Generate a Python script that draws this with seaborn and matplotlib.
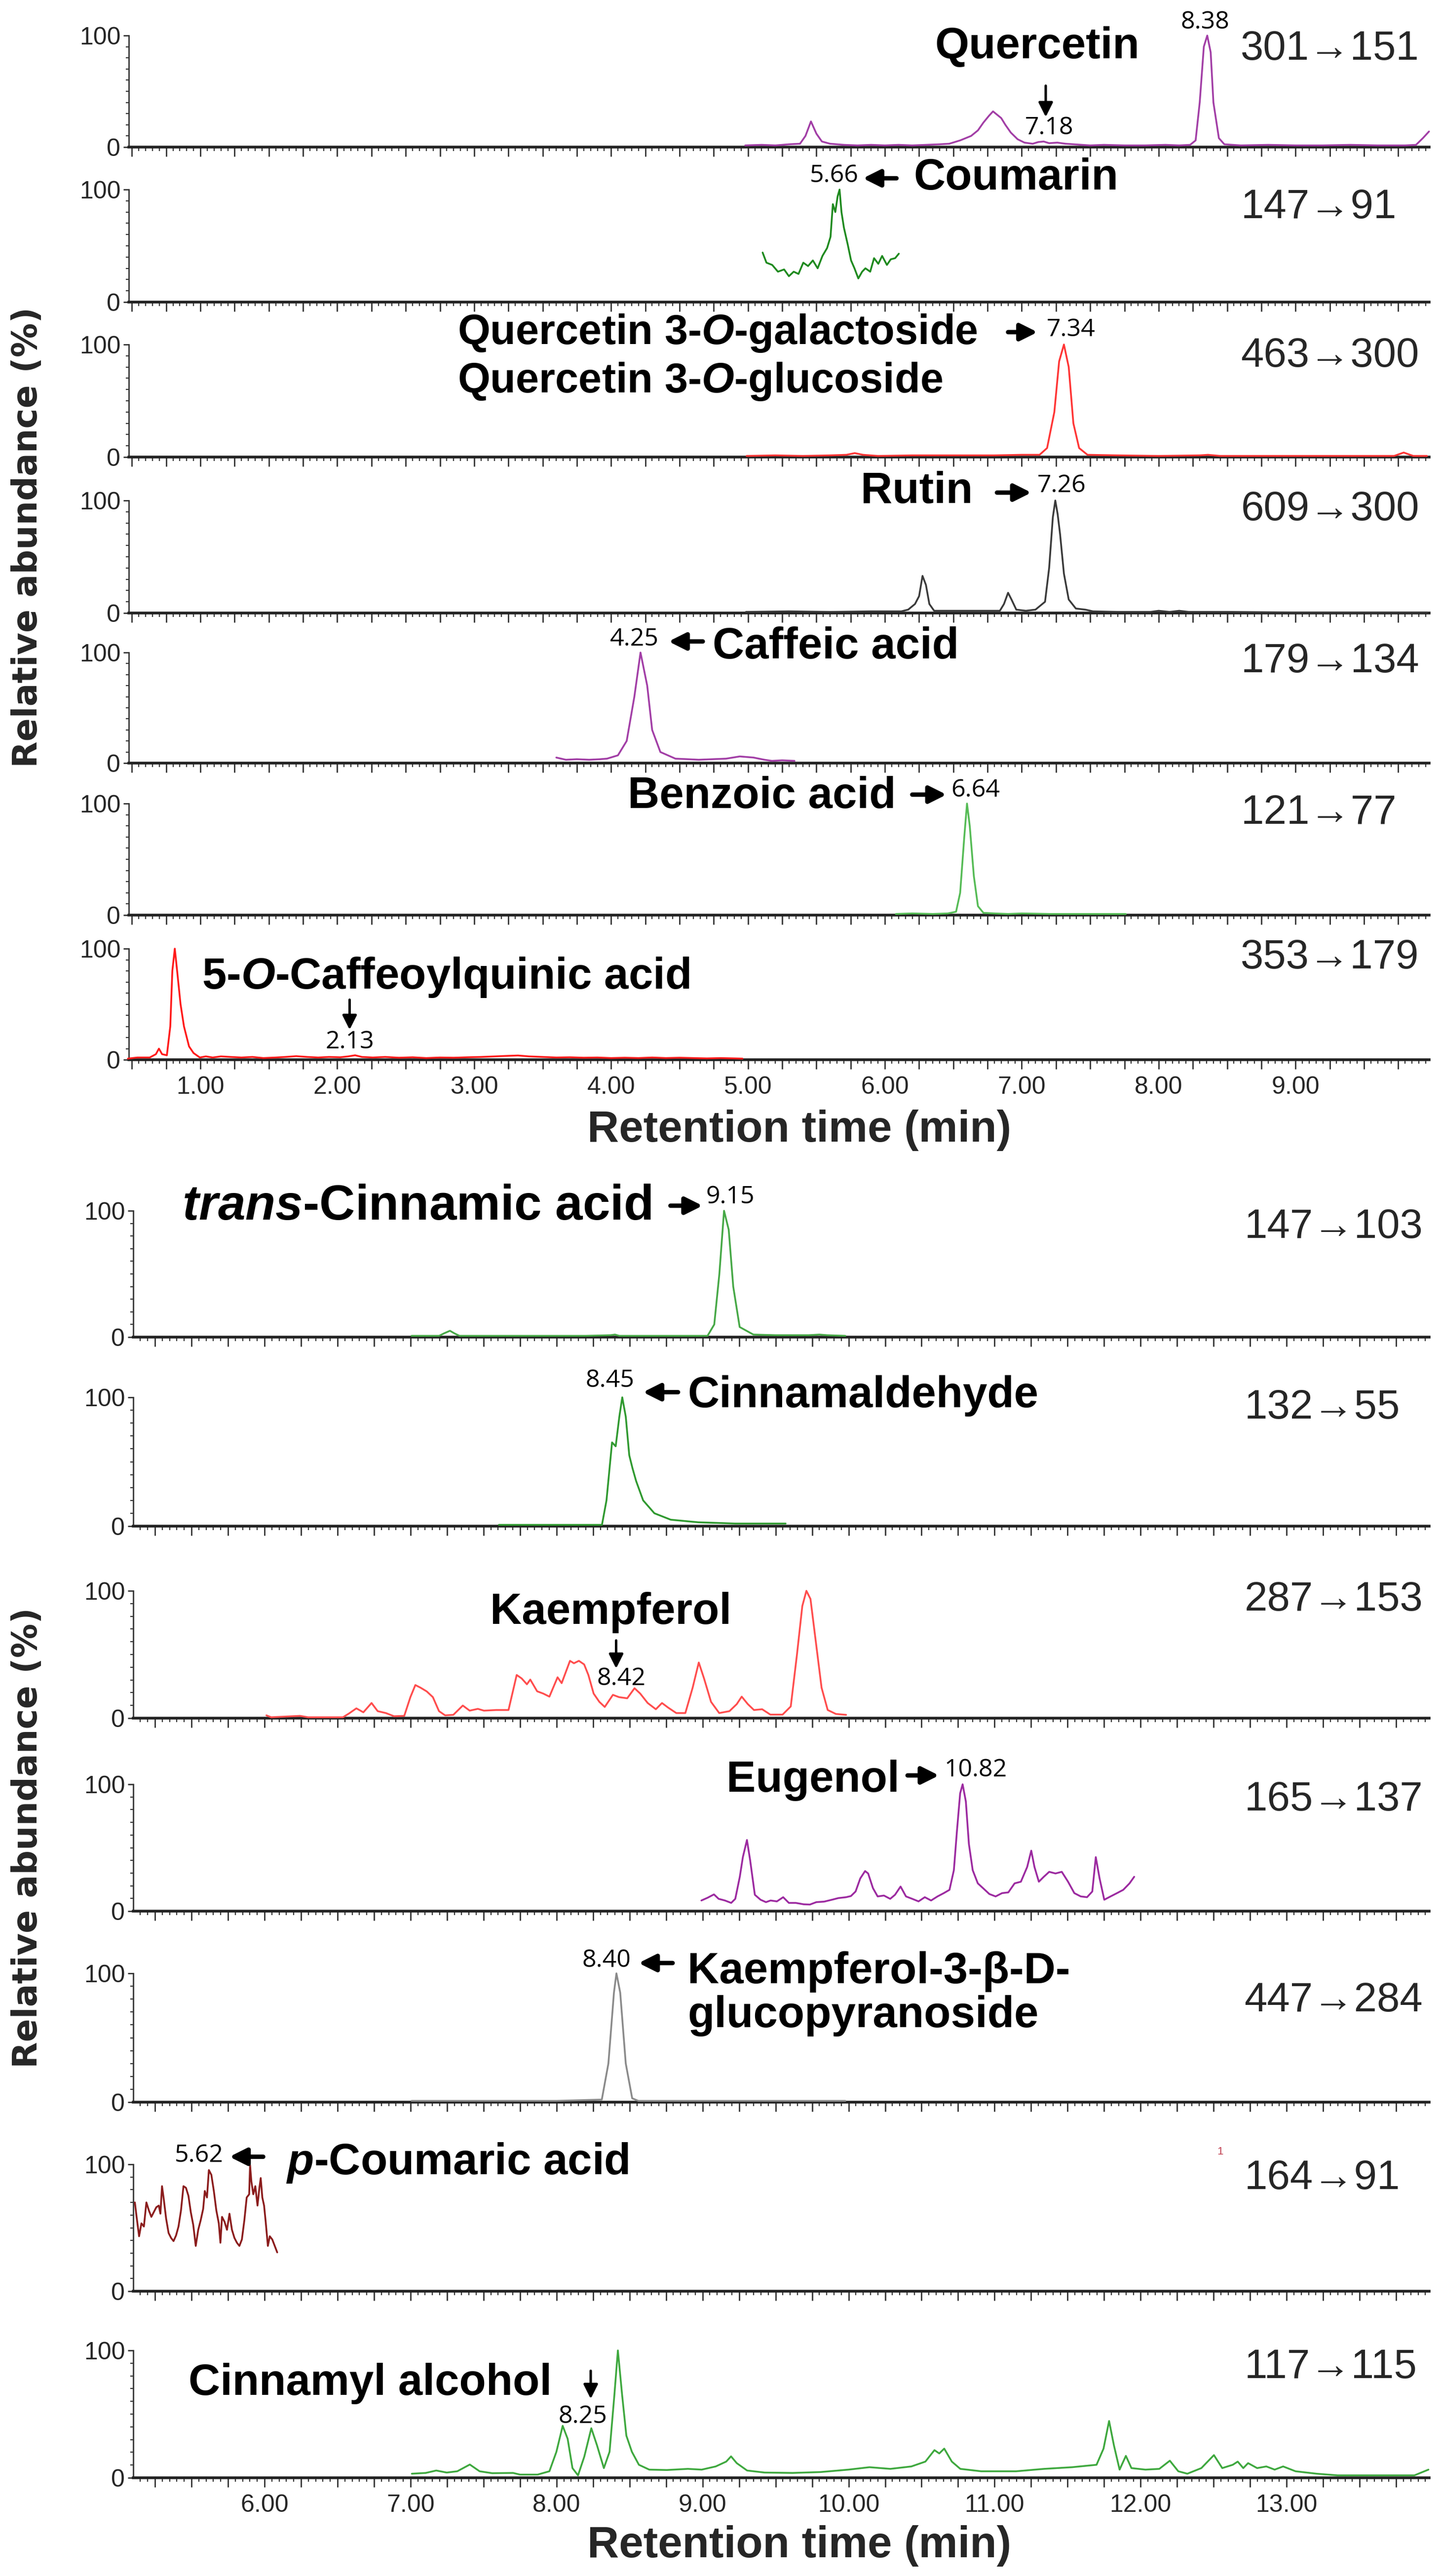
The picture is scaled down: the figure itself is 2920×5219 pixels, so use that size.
import matplotlib
matplotlib.use('Agg')
import matplotlib.pyplot as plt
from matplotlib.ticker import MultipleLocator, FuncFormatter
import seaborn as sns

# ---- chromatogram traces (retention time in min, relative abundance in %) ----
quercetin_t = [4.98, 5.10, 5.20, 5.30, 5.38, 5.42, 5.46, 5.50, 5.54, 5.60, 5.70, 5.80, 5.90, 6.00, 6.10, 6.20,
               6.30, 6.40, 6.47, 6.55, 6.63, 6.68, 6.72, 6.76, 6.79, 6.82, 6.85, 6.88, 6.92, 6.97, 7.02, 7.08,
               7.12, 7.16, 7.20, 7.26, 7.32, 7.38, 7.50, 7.60, 7.75, 7.90, 8.05, 8.15, 8.23, 8.27, 8.30, 8.33,
               8.355, 8.38, 8.40, 8.44, 8.48, 8.60, 8.80, 9.00, 9.20, 9.40, 9.60, 9.80, 9.88, 9.93, 9.975]
quercetin_y = [1.5, 2, 1.5, 2.5, 3, 10, 23, 12, 5, 3, 2, 1.5, 2, 1.5, 2, 1.5,
               2, 2.5, 3, 6, 10, 15, 22, 28, 32, 29, 26, 20, 13, 7, 4, 3,
               4.5, 5, 3.5, 4, 3, 2.5, 1.5, 2, 1.5, 1.5, 2, 1.5, 2, 6, 40, 90,
               100, 85, 40, 8, 2.5, 1.5, 2, 1.5, 1.5, 2, 1.5, 1.5, 2, 8, 14]

coumarin_t = [5.107, 5.135, 5.177, 5.219, 5.264, 5.299, 5.334, 5.369, 5.404, 5.439, 5.474, 5.509, 5.544,
              5.578, 5.603, 5.620, 5.638, 5.655, 5.669, 5.683, 5.701, 5.729, 5.753, 5.778, 5.806, 5.834,
              5.858, 5.893, 5.921, 5.952, 5.980, 6.015, 6.043, 6.075, 6.102]
coumarin_y = [44, 35, 33, 27, 29, 23, 27, 25, 35, 32, 37, 30, 41,
              48, 58, 87, 80, 94, 100, 80, 66, 51, 37, 30, 21, 27,
              30, 27, 39, 34, 41, 33, 38, 39, 43]

q3g_t = [4.99, 5.20, 5.40, 5.60, 5.72, 5.78, 5.84, 5.95, 6.20, 6.50, 6.80, 7.00, 7.13, 7.185, 7.238, 7.273,
         7.308, 7.343, 7.377, 7.419, 7.48, 7.70, 8.00, 8.30, 8.36, 8.45, 8.80, 9.20, 9.60, 9.72, 9.79, 9.86, 9.96]
q3g_y = [1, 1.5, 1, 1.5, 2, 3.5, 2, 1, 1.5, 1.5, 1.5, 2, 2, 8, 40, 85,
         100, 80, 30, 8, 2, 1.5, 1, 1.5, 2, 1, 1, 1, 1, 1, 4, 1, 1]

rutin_t = [4.985, 5.30, 5.60, 5.90, 6.12, 6.17, 6.22, 6.25, 6.275, 6.30, 6.325, 6.36, 6.50, 6.70, 6.84, 6.87,
           6.90, 6.925, 6.96, 7.03, 7.10, 7.17, 7.20, 7.227, 7.245, 7.262, 7.28, 7.308, 7.343, 7.395, 7.465,
           7.52, 7.70, 7.94, 8.00, 8.08, 8.15, 8.22, 8.50, 9.00, 9.50, 9.96]
rutin_y = [1, 1.5, 1, 1.5, 1.5, 3, 8, 15, 33, 25, 8, 2, 2, 2, 2, 8,
           18, 12, 3, 2, 3, 10, 40, 85, 100, 88, 70, 35, 12, 4, 3,
           1.5, 1, 1, 2, 1, 2, 1, 1, 0.5, 0.5, 0.5]

caffeic_t = [3.60, 3.67, 3.75, 3.84, 3.92, 3.97, 4.05, 4.114, 4.17, 4.215, 4.264, 4.30, 4.36, 4.47, 4.56,
             4.64, 4.74, 4.84, 4.94, 5.04, 5.12, 5.175, 5.25, 5.34]
caffeic_y = [5, 3, 3.5, 3, 3.5, 4, 7, 20, 60, 100, 70, 30, 10, 4, 3.5,
             3, 3.5, 4, 6, 5, 3, 2, 2.5, 2]

benzoic_t = [6.08, 6.20, 6.35, 6.46, 6.52, 6.55, 6.58, 6.60, 6.62, 6.65, 6.68, 6.72, 6.80, 6.90, 7.00,
             7.20, 7.40, 7.60, 7.76]
benzoic_y = [1, 1.5, 1, 1.5, 3, 20, 70, 100, 80, 35, 8, 2, 1.5, 1, 1.5, 1, 1, 1, 1]

cqa_t = [0.47, 0.54, 0.63, 0.675, 0.697, 0.72, 0.755, 0.78, 0.795, 0.813, 0.83, 0.855, 0.88, 0.917, 0.95,
         0.996, 1.04, 1.09, 1.15, 1.22, 1.30, 1.38, 1.46, 1.55, 1.62, 1.70, 1.78, 1.86, 1.94, 2.02, 2.08,
         2.13, 2.18, 2.26, 2.35, 2.45, 2.55, 2.65, 2.75, 2.85, 2.95, 3.05, 3.15, 3.25, 3.32, 3.40, 3.50,
         3.60, 3.70, 3.80, 3.90, 4.00, 4.10, 4.20, 4.30, 4.40, 4.50, 4.60, 4.70, 4.80, 4.90, 4.96]
cqa_y = [1, 2, 2, 5, 10, 5, 4, 30, 80, 100, 80, 50, 30, 12, 6,
         2, 3, 2, 3, 2.5, 2, 2.5, 1.5, 2, 2.5, 3.2, 2.5, 2, 2.5, 2.2, 3,
         4, 2.5, 2, 2.5, 1.8, 2.2, 1.5, 2, 1.8, 2.2, 2.5, 3, 3.5, 3.8, 3, 2.5,
         2, 2.2, 1.8, 2, 1.5, 1.8, 1.5, 2, 1.5, 1.8, 1.5, 1.2, 1.5, 1.2, 1]

cinnamic_t = [7.007, 7.10, 7.196, 7.23, 7.27, 7.30, 7.335, 7.60, 7.90, 8.20, 8.37, 8.40, 8.43, 8.70, 9.034,
              9.08, 9.115, 9.147, 9.179, 9.21, 9.254, 9.348, 9.50, 9.727, 9.80, 9.852, 9.978]
cinnamic_y = [1, 1, 1, 3, 5, 3, 1, 1, 1, 1, 1.5, 2, 1, 1, 1,
              10, 50, 100, 85, 40, 8, 2, 1.5, 1.5, 2, 1.5, 1]

cinnamaldehyde_t = [7.605, 7.80, 8.00, 8.20, 8.311, 8.342, 8.38, 8.405, 8.43, 8.45, 8.474, 8.498, 8.52, 8.545,
                    8.593, 8.67, 8.782, 8.97, 9.10, 9.224, 9.40, 9.569]
cinnamaldehyde_y = [1, 1, 1, 1, 1, 20, 65, 62, 85, 100, 85, 55, 45, 35,
                    20, 10, 5, 3, 2.5, 2, 2, 2]

kaempferol_t = [6.013, 6.046, 6.243, 6.298, 6.537, 6.579, 6.629, 6.677, 6.733, 6.775, 6.831, 6.887, 6.957,
                6.999, 7.033, 7.069, 7.111, 7.153, 7.195, 7.237, 7.293, 7.358, 7.405, 7.461, 7.503, 7.587,
                7.671, 7.727, 7.761, 7.797, 7.820, 7.867, 7.909, 7.951, 8.007, 8.035, 8.092, 8.119, 8.153,
                8.189, 8.218, 8.254, 8.293, 8.330, 8.386, 8.428, 8.484, 8.534, 8.573, 8.624, 8.680, 8.722,
                8.764, 8.820, 8.882, 8.932, 8.974, 9.010, 9.058, 9.114, 9.184, 9.234, 9.268, 9.310, 9.352,
                9.408, 9.464, 9.548, 9.604, 9.646, 9.683, 9.711, 9.739, 9.773, 9.815, 9.857, 9.913, 9.983]
kaempferol_y = [2.2, 0.7, 1.8, 0.7, 0.7, 3.7, 7.7, 4.6, 11.9, 5.5, 4.0, 1.5, 1.8,
                16.5, 26, 23.9, 21, 16.5, 5.5, 2.2, 2.6, 9.9, 5.9, 7.3, 5.9, 6.4,
                6.4, 33.9, 31.2, 26.6, 30.3, 21.1, 19.3, 16.9, 32.1, 27.5, 45, 43.1, 45,
                42.2, 33.9, 19.3, 12.8, 8.8, 18.3, 16.5, 15.6, 23.5, 19.3, 11.9, 7.0, 11.9,
                8.3, 4.0, 4.0, 23.9, 43.7, 31.2, 12.8, 4.0, 5.5, 11.0, 16.9, 11.0, 6.4,
                7.0, 2.8, 2.8, 9.2, 49.5, 88, 100, 93.6, 62.4, 23.9, 6.4, 3.3, 2.6]

eugenol_t = [8.992, 9.035, 9.078, 9.110, 9.153, 9.196, 9.224, 9.255, 9.276, 9.304, 9.326, 9.358, 9.397,
             9.434, 9.466, 9.509, 9.552, 9.591, 9.638, 9.692, 9.735, 9.779, 9.832, 9.886, 9.930, 9.983,
             10.016, 10.048, 10.080, 10.113, 10.134, 10.167, 10.199, 10.242, 10.285, 10.318, 10.356,
             10.393, 10.436, 10.479, 10.522, 10.565, 10.609, 10.652, 10.691, 10.721, 10.742, 10.764,
             10.781, 10.803, 10.824, 10.850, 10.885, 10.921, 10.964, 11.007, 11.051, 11.094, 11.137,
             11.180, 11.223, 11.251, 11.273, 11.303, 11.337, 11.374, 11.417, 11.460, 11.503, 11.546,
             11.590, 11.633, 11.669, 11.693, 11.719, 11.751, 11.794, 11.838, 11.881, 11.924, 11.956]
eugenol_y = [8.4, 10.6, 13.2, 9.7, 8.4, 6.5, 9.7, 27.1, 42.6, 56.1, 40, 12.9, 9.0,
             7.1, 8.4, 7.7, 11.0, 6.5, 6.5, 5.4, 5.2, 7.1, 7.5, 9.0, 10.3, 11.0,
             11.9, 15.5, 25.8, 31.6, 29.7, 18.1, 11.6, 12.3, 9.7, 12.9, 19.4,
             11.6, 9.7, 7.7, 11.0, 8.4, 11.6, 14.2, 16.8, 32.3, 63.2, 92.9,
             100, 86.5, 52.9, 32.3, 21.9, 18.1, 13.5, 11.6, 14.2, 14.8, 21.9,
             23.2, 34.8, 47.7, 34.8, 23.2, 27.1, 31.0, 29.7, 31.0, 23.2, 14.2,
             11.6, 11.0, 15.5, 42.6, 25.8, 9.0, 11.6, 14.2, 16.8, 21.9, 27.1]

k3g_t = [7.007, 7.50, 8.00, 8.31, 8.355, 8.393, 8.41, 8.436, 8.474, 8.518, 8.56, 9.00, 9.50, 9.978]
k3g_y = [1, 1, 1, 2, 30, 85, 100, 85, 30, 3, 1, 1, 1, 1]

pcoumaric_t = [5.112, 5.124, 5.141, 5.157, 5.174, 5.191, 5.208, 5.225, 5.242, 5.259, 5.276, 5.287, 5.298,
               5.310, 5.326, 5.343, 5.360, 5.377, 5.394, 5.411, 5.428, 5.445, 5.462, 5.479, 5.495, 5.512,
               5.529, 5.546, 5.563, 5.580, 5.591, 5.606, 5.619, 5.636, 5.653, 5.670, 5.687, 5.698, 5.709,
               5.726, 5.743, 5.760, 5.777, 5.794, 5.811, 5.828, 5.845, 5.862, 5.878, 5.895, 5.901, 5.910,
               5.923, 5.937, 5.952, 5.965, 5.974, 5.985, 5.997, 6.008, 6.023, 6.036, 6.053, 6.070, 6.087]
pcoumaric_y = [70, 58.6, 43.3, 53.5, 51, 70, 63.7, 58.6, 62.4, 66.2, 67.5, 61.1, 82.8,
               72.6, 57.3, 45.9, 42, 39.5, 43.9, 51, 63.7, 82.8, 81.5, 75.2, 62.4, 52.2,
               35.7, 48.4, 56, 65, 79, 73.9, 95.5, 91.7, 79, 63.7, 53.5, 38.2, 58.6,
               54.8, 48.4, 61.1, 48.4, 42, 38.2, 35.7, 40.8, 56, 73.9, 76.4, 99.4, 86.6,
               76.4, 82.8, 67.5, 81.5, 89.2, 73.9, 67.5, 54.8, 35.7, 43.3, 40.8, 35.7, 30.6]

cinnamyl_t = [7.009, 7.104, 7.176, 7.248, 7.320, 7.406, 7.473, 7.559, 7.702, 7.750, 7.870, 7.951, 7.999,
              8.042, 8.076, 8.109, 8.147, 8.190, 8.238, 8.277, 8.324, 8.363, 8.396, 8.420, 8.449, 8.478,
              8.516, 8.564, 8.635, 8.755, 8.899, 8.994, 9.090, 9.162, 9.195, 9.234, 9.305, 9.425, 9.616,
              9.808, 9.999, 10.143, 10.286, 10.430, 10.526, 10.588, 10.621, 10.655, 10.707, 10.765, 10.908,
              11.147, 11.339, 11.530, 11.698, 11.746, 11.784, 11.817, 11.856, 11.899, 11.937, 12.033,
              12.128, 12.200, 12.258, 12.320, 12.416, 12.502, 12.559, 12.631, 12.665, 12.703, 12.736,
              12.798, 12.861, 12.918, 12.976, 13.061, 13.205, 13.349, 13.636, 13.875, 13.971]
cinnamyl_y = [3.2, 3.8, 5.7, 4.1, 5.1, 10.4, 5.1, 3.6, 3.8, 2.5, 2.5, 5.1, 20.4,
              40.8, 30.6, 7.6, 1.9, 16.6, 38.9, 25.5, 7.6, 20.4, 65, 100, 65, 33.1,
              20.4, 10.2, 6.4, 6.1, 7.0, 6.4, 8.9, 12.7, 16.8, 11.5, 5.7, 4.1, 3.8,
              4.5, 6.4, 8.3, 7.0, 8.9, 12.7, 21.7, 19.1, 22.9, 12.7, 7.0, 5.1,
              5.1, 7.0, 8.3, 10.2, 22.9, 44.6, 25.5, 6.4, 17.2, 7.6, 6.4,
              7.0, 13.4, 5.1, 3.2, 7.6, 17.8, 7.6, 10.2, 12.7, 7.6, 11.5,
              7.6, 8.9, 6.4, 8.9, 5.1, 3.2, 1.9, 1.9, 1.9, 6.4]

transitions = ['301→151', '147→91', '463→300', '609→300', '179→134', '121→77', '353→179',
               '147→103', '132→55', '287→153', '165→137', '447→284', '164→91', '117→115']
transition_y = [88, 84, 90, 92, 92, 92, 92, 87, 92, 93, 88, 79, 89, 87]

top_ticks = [1, 2, 3, 4, 5, 6, 7, 8, 9]
bottom_ticks = [6, 7, 8, 9, 10, 11, 12, 13]

traces = [
    (quercetin_t, quercetin_y, '#a23ea6'),
    (coumarin_t, coumarin_y, '#1f8a1f'),
    (q3g_t, q3g_y, '#ff3535'),
    (rutin_t, rutin_y, '#3a3a3a'),
    (caffeic_t, caffeic_y, '#a23ea6'),
    (benzoic_t, benzoic_y, '#55bb55'),
    (cqa_t, cqa_y, '#ff1a1a'),
    (cinnamic_t, cinnamic_y, '#46a846'),
    (cinnamaldehyde_t, cinnamaldehyde_y, '#2f992f'),
    (kaempferol_t, kaempferol_y, '#ff4d4d'),
    (eugenol_t, eugenol_y, '#9c2aa0'),
    (k3g_t, k3g_y, '#8a8a8a'),
    (pcoumaric_t, pcoumaric_y, '#8b1c1c'),
    (cinnamyl_t, cinnamyl_y, '#3ea83e'),
]

# ---- layout (pixels of the 2920 x 5219 figure): y of 100 % and y of 0 % per panel ----
W, H = 2920, 5219
top_rows = [(72, 298), (384, 612), (698, 926), (1014, 1242), (1322, 1546), (1628, 1854), (1922, 2147)]
bottom_rows = [(2453, 2709), (2831, 3092), (3223, 3481), (3615, 3872), (3998, 4259), (4385, 4642), (4762, 5020)]

sns.set_style('ticks')
plt.rcParams['font.family'] = ['Liberation Sans', 'DejaVu Sans']
plt.rcParams['mathtext.fontset'] = 'custom'
plt.rcParams['mathtext.rm'] = 'Liberation Sans:bold'
plt.rcParams['mathtext.it'] = 'Liberation Sans:italic:bold'
plt.rcParams['mathtext.bf'] = 'Liberation Sans:bold'

fig = plt.figure(figsize=(W / 200, H / 200), dpi=200)

NAME = dict(fontsize=32, fontweight='bold', color='black', ha='left', va='center')
RT = dict(fontsize=18, family=['Open Sans', 'DejaVu Sans'], color='black', ha='center', va='center')
ARROW_H = dict(arrowstyle='-|>', color='black', lw=3.2, mutation_scale=26, shrinkA=0, shrinkB=0)
ARROW_V = dict(arrowstyle='-|>', color='black', lw=1.8, mutation_scale=22, shrinkA=0, shrinkB=0)


def arrow(ax, tail, head, style):
    ax.annotate('', xy=head, xytext=tail, arrowprops=style, annotation_clip=False)


axes = []
for i, (t, y, c) in enumerate(traces):
    if i < 7:
        left, right = 261, 2896
        top, base = top_rows[i]
        xlim = (0.477, 9.976)
        ticks = top_ticks
        last = i == 6
    else:
        left, right = 270, 2896
        top, base = bottom_rows[i - 7]
        xlim = (5.101, 13.976)
        ticks = bottom_ticks
        last = i == 13
    ax = fig.add_axes([left / W, 1 - base / H, (right - left) / W, (base - top) / H])
    ax.patch.set_alpha(0)
    sns.lineplot(x=t, y=y, ax=ax, color=c, lw=1.3, sort=False, estimator=None, zorder=3)
    ax.lines[-1].set_clip_on(False)
    ax.set_xlim(*xlim)
    ax.set_ylim(0, 100)
    ax.set_xlabel('')
    ax.set_ylabel('')
    for s in ['top', 'right']:
        ax.spines[s].set_visible(False)
    ax.spines['left'].set_bounds(0, 100)
    ax.spines['left'].set_linewidth(1.0)
    ax.spines['left'].set_color('#333333')
    ax.spines['bottom'].set_linewidth(2.0)
    ax.spines['bottom'].set_color('#222222')

    ax.xaxis.set_major_locator(MultipleLocator(0.25))
    ax.xaxis.set_minor_locator(MultipleLocator(0.05))
    ax.xaxis.set_major_formatter(FuncFormatter(
        lambda v, p, tk=ticks: f'{v:.2f}' if any(abs(v - k) < 1e-6 for k in tk) else ''))
    ax.tick_params(axis='x', which='major', length=7, width=1.0, color='#333333',
                   labelsize=18, pad=5, labelbottom=last)
    ax.tick_params(axis='x', which='minor', length=3, width=0.8, color='#333333')
    ax.set_yticks([0, 100])
    ax.set_yticklabels(['0', '100'])
    ax.yaxis.set_minor_locator(MultipleLocator(10))
    ax.tick_params(axis='y', which='major', length=4, width=1.0, color='#333333', labelsize=18, pad=2)
    ax.tick_params(axis='y', which='minor', length=2, width=0.8, color='#333333')

    tx = 8.60 if i < 7 else 12.71
    ax.text(tx, transition_y[i], transitions[i], fontsize=30, ha='left', va='center')
    axes.append(ax)

# ---- compound annotations ----
ax = axes[0]
ax.text(6.364, 90, 'Quercetin', **NAME)
ax.text(8.34, 112, '8.38', **RT)
arrow(ax, (7.175, 55), (7.175, 27), ARROW_V)
ax.text(7.20, 17, '7.18', **RT)

ax = axes[1]
ax.text(5.63, 112, '5.66', **RT)
arrow(ax, (6.085, 110), (5.84, 110), ARROW_H)
ax.text(6.21, 110, 'Coumarin', **NAME)

ax = axes[2]
q3g_style = dict(NAME, fontsize=30.5)
ax.text(2.878, 110, r'Quercetin 3-$\mathit{O}$-galactoside', **q3g_style)
ax.text(2.878, 67, r'Quercetin 3-$\mathit{O}$-glucoside', **q3g_style)
arrow(ax, (6.900, 111), (7.115, 111), ARROW_H)
ax.text(7.36, 113, '7.34', **RT)

ax = axes[3]
ax.text(5.823, 108, 'Rutin', **NAME)
arrow(ax, (6.819, 107), (7.07, 107), ARROW_H)
ax.text(7.29, 113, '7.26', **RT)

ax = axes[4]
ax.text(4.17, 112, '4.25', **RT)
arrow(ax, (4.67, 110), (4.42, 110), ARROW_H)
ax.text(4.74, 105, 'Caffeic acid', **NAME)

ax = axes[5]
ax.text(4.12, 106, 'Benzoic acid', **NAME)
arrow(ax, (6.20, 108), (6.45, 108), ARROW_H)
ax.text(6.66, 112, '6.64', **RT)

ax = axes[6]
ax.text(1.01, 74, r'5-$\mathit{O}$-Caffeoylquinic acid', **NAME)
arrow(ax, (2.09, 54), (2.09, 27), ARROW_V)
ax.text(2.09, 16, '2.13', **RT)

ax = axes[7]
ax.text(5.436, 103, r'$\mathit{trans}$-Cinnamic acid', **dict(NAME, fontsize=36))
arrow(ax, (8.78, 104), (9.0, 104), ARROW_H)
ax.text(9.19, 111, '9.15', **RT)

ax = axes[8]
ax.text(8.366, 113, '8.45', **RT)
arrow(ax, (8.832, 104), (8.592, 104), ARROW_H)
ax.text(8.896, 101, 'Cinnamaldehyde', **NAME)

ax = axes[9]
ax.text(7.545, 83, 'Kaempferol', **NAME)
arrow(ax, (8.408, 61), (8.408, 39), ARROW_V)
ax.text(8.442, 31, '8.42', **RT)

ax = axes[10]
ax.text(9.164, 103, 'Eugenol', **NAME)
arrow(ax, (10.404, 107), (10.619, 107), ARROW_H)
ax.text(10.872, 111, '10.82', **RT)

ax = axes[11]
ax.text(8.342, 110, '8.40', **RT)
arrow(ax, (8.795, 108), (8.562, 108), ARROW_H)
ax.text(8.896, 101, 'Kaempferol-3-β-D-', **NAME)
ax.text(8.896, 67, 'glucopyranoside', **NAME)

ax = axes[12]
ax.text(5.552, 107, '5.62', **RT)
arrow(ax, (5.991, 106), (5.760, 106), ARROW_H)
ax.text(6.149, 101, r'$\mathit{p}$-Coumaric acid', **NAME)
ax.text(12.546, 110, '1', fontsize=8, color='#c04050', ha='center', va='center')

ax = axes[13]
ax.text(5.48, 74, 'Cinnamyl alcohol', **NAME)
arrow(ax, (8.234, 84), (8.234, 62), ARROW_V)
ax.text(8.18, 48, '8.25', **RT)

# ---- shared axis titles ----
for yc in [1088, 3723]:
    fig.text(56 / W, 1 - yc / H, 'Relative abundance (%)', rotation=90, fontsize=25,
             fontweight='bold', family=['DejaVu Sans'], ha='center', va='center')
for yc in [2290, 5158]:
    fig.text(1620 / W, 1 - yc / H, 'Retention time (min)', fontsize=32, fontweight='bold',
             ha='center', va='center')

fig.savefig('out.png', dpi=200)
